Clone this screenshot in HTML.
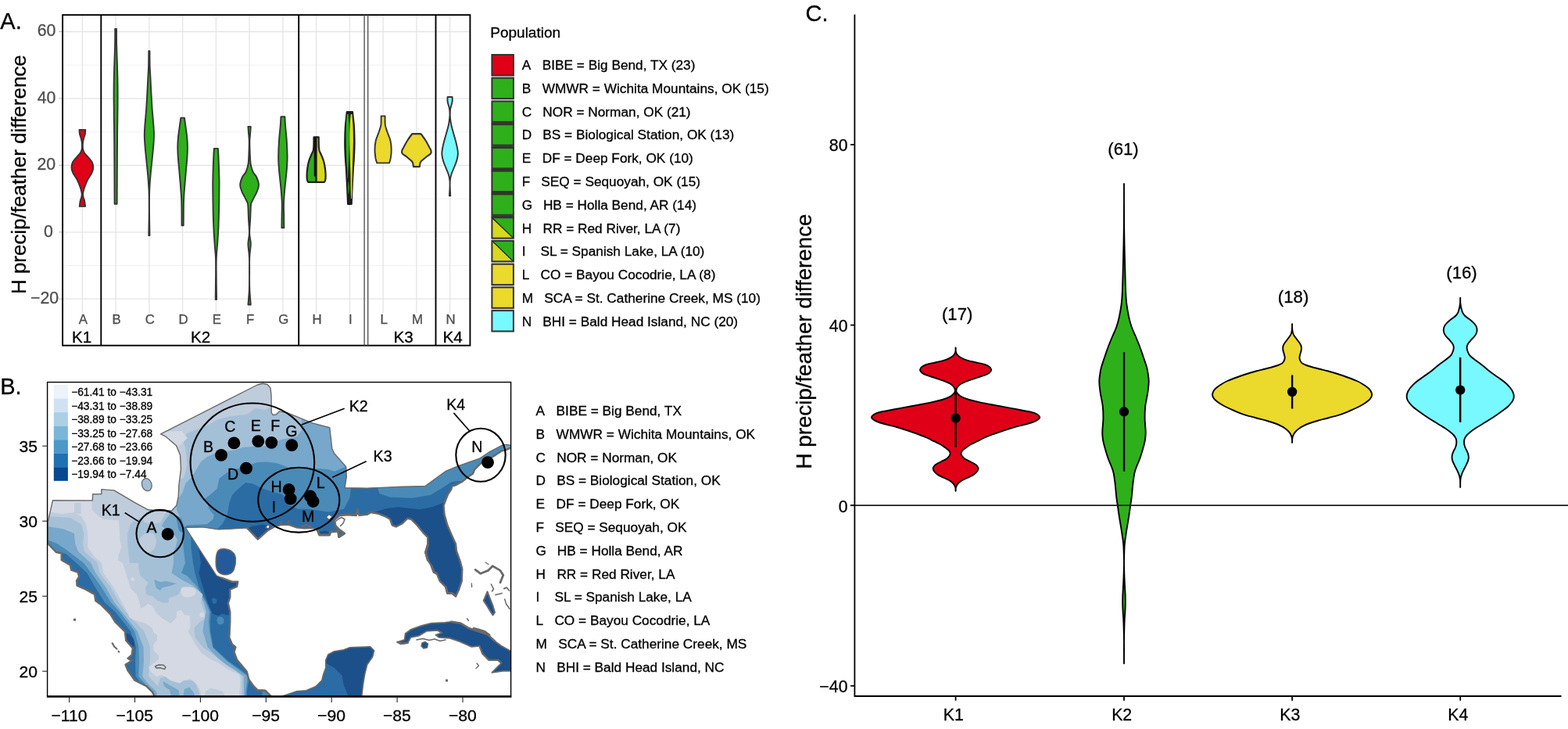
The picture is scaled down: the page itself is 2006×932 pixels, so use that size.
<!DOCTYPE html>
<html lang="en">
<head>
<meta charset="utf-8">
<title>H precip/feather difference by population and genetic cluster</title>
<style>
html,body{margin:0;padding:0;background:#fff;}
body{width:2006px;height:932px;overflow:hidden;}
svg{display:block;}
svg text{font-family:'Liberation Sans', Arial, Helvetica, sans-serif;white-space:pre;}
</style>
</head>
<body>
<svg width="2006" height="932" viewBox="0 0 2006 932" xml:space="preserve">
<rect x="0" y="0" width="2006" height="932" fill="#ffffff"/>
<g id="panelA">
<g stroke="#ebebeb" fill="none">
<line x1="80.1" x2="601.4" y1="83.2" y2="83.2" stroke-width="0.7"/>
<line x1="80.1" x2="601.4" y1="168.7" y2="168.7" stroke-width="0.7"/>
<line x1="80.1" x2="601.4" y1="254.1" y2="254.1" stroke-width="0.7"/>
<line x1="80.1" x2="601.4" y1="339.5" y2="339.5" stroke-width="0.7"/>
<line x1="80.1" x2="601.4" y1="40.5" y2="40.5" stroke-width="1.3" stroke="#e4e4e4"/>
<line x1="80.1" x2="601.4" y1="125.9" y2="125.9" stroke-width="1.3" stroke="#e4e4e4"/>
<line x1="80.1" x2="601.4" y1="211.4" y2="211.4" stroke-width="1.3" stroke="#e4e4e4"/>
<line x1="80.1" x2="601.4" y1="296.8" y2="296.8" stroke-width="1.3" stroke="#e4e4e4"/>
<line x1="80.1" x2="601.4" y1="382.2" y2="382.2" stroke-width="1.3" stroke="#e4e4e4"/>
<line x1="105.4" x2="105.4" y1="19.1" y2="400.4" stroke-width="1.3" stroke="#e4e4e4"/>
<line x1="148.1" x2="148.1" y1="19.1" y2="400.4" stroke-width="1.3" stroke="#e4e4e4"/>
<line x1="190.9" x2="190.9" y1="19.1" y2="400.4" stroke-width="1.3" stroke="#e4e4e4"/>
<line x1="233.6" x2="233.6" y1="19.1" y2="400.4" stroke-width="1.3" stroke="#e4e4e4"/>
<line x1="276.4" x2="276.4" y1="19.1" y2="400.4" stroke-width="1.3" stroke="#e4e4e4"/>
<line x1="319.1" x2="319.1" y1="19.1" y2="400.4" stroke-width="1.3" stroke="#e4e4e4"/>
<line x1="361.9" x2="361.9" y1="19.1" y2="400.4" stroke-width="1.3" stroke="#e4e4e4"/>
<line x1="404.6" x2="404.6" y1="19.1" y2="400.4" stroke-width="1.3" stroke="#e4e4e4"/>
<line x1="447.4" x2="447.4" y1="19.1" y2="400.4" stroke-width="1.3" stroke="#e4e4e4"/>
<line x1="490.1" x2="490.1" y1="19.1" y2="400.4" stroke-width="1.3" stroke="#e4e4e4"/>
<line x1="532.9" x2="532.9" y1="19.1" y2="400.4" stroke-width="1.3" stroke="#e4e4e4"/>
<line x1="575.6" x2="575.6" y1="19.1" y2="400.4" stroke-width="1.3" stroke="#e4e4e4"/>
</g>
<line x1="75.3" x2="80.1" y1="40.5" y2="40.5" stroke="#b0b0b0" stroke-width="1"/>
<line x1="75.3" x2="80.1" y1="125.9" y2="125.9" stroke="#b0b0b0" stroke-width="1"/>
<line x1="75.3" x2="80.1" y1="211.4" y2="211.4" stroke="#b0b0b0" stroke-width="1"/>
<line x1="75.3" x2="80.1" y1="296.8" y2="296.8" stroke="#b0b0b0" stroke-width="1"/>
<line x1="75.3" x2="80.1" y1="382.2" y2="382.2" stroke="#b0b0b0" stroke-width="1"/>
<g stroke="#333333" stroke-width="1.9" stroke-linejoin="round">
<path d="M109.3 165.9C109.2 166.8 109.2 169.3 108.9 171C108.6 172.7 107.9 174.3 107.4 176C107 177.7 106.5 179.3 106.2 181C105.9 182.7 105.8 184.3 105.8 186C105.8 187.7 105.8 189.4 106.2 191C106.6 192.6 107 194 108 195.5C109 197 110.4 198.1 112 200C113.6 201.9 116.4 204.7 117.6 207C118.8 209.3 119.3 211.7 119.3 213.9C119.3 216.2 118.9 217.8 117.7 220.5C116.5 223.2 113.6 226.9 112 230C110.4 233.1 109.2 236.5 108.3 239C107.4 241.5 107 243.4 106.6 245C106.2 246.6 106.1 247.6 106.1 248.8C106.1 250.1 106.4 251.1 106.7 252.5C107 253.9 107.7 255.1 108.1 257C108.5 258.9 108.9 262.8 109.1 263.9L101.7 263.9C101.9 262.8 102.3 258.9 102.7 257C103.1 255.1 103.8 253.9 104.1 252.5C104.4 251.1 104.7 250.1 104.7 248.8C104.7 247.6 104.6 246.6 104.2 245C103.8 243.4 103.4 241.5 102.5 239C101.6 236.5 100.4 233.1 98.8 230C97.2 226.9 94.3 223.2 93.1 220.5C91.9 217.8 91.5 216.2 91.5 213.9C91.5 211.7 92 209.3 93.2 207C94.4 204.7 97.2 201.9 98.8 200C100.4 198.1 101.8 197 102.8 195.5C103.8 194 104.2 192.6 104.6 191C105 189.4 105 187.7 105 186C105 184.3 104.9 182.7 104.6 181C104.3 179.3 103.9 177.7 103.4 176C103 174.3 102.2 172.7 101.9 171C101.6 169.3 101.6 166.8 101.5 165.9Z" fill="#df0017"/>
<path d="M149 36.9C149 38.8 149 44.8 149 48C149.1 51.2 149.1 52.3 149.1 56C149.2 59.7 149.4 65.2 149.5 70C149.7 74.8 149.9 79.2 150 85C150.2 90.8 150.4 98.2 150.5 105C150.6 111.8 150.7 118.5 150.6 126C150.6 133.5 150.5 142.7 150.4 150C150.4 157.3 150.2 161.7 150.1 170C150.1 178.3 150 191.7 149.9 200C149.9 208.3 149.9 212.5 149.8 220C149.8 227.5 149.8 238.2 149.7 245C149.7 251.8 149.7 258.2 149.6 260.8L146.6 260.8C146.6 258.2 146.6 251.8 146.5 245C146.5 238.2 146.5 227.5 146.4 220C146.4 212.5 146.4 208.3 146.3 200C146.3 191.7 146.2 178.3 146.1 170C146.1 161.7 145.9 157.3 145.8 150C145.8 142.7 145.7 133.5 145.6 126C145.6 118.5 145.6 111.8 145.7 105C145.8 98.2 146.1 90.8 146.2 85C146.4 79.2 146.6 74.8 146.7 70C146.9 65.2 147.1 59.7 147.1 56C147.2 52.3 147.2 51.2 147.2 48C147.3 44.8 147.2 38.8 147.2 36.9Z" fill="#2eb01a" stroke-width="1.9"/>
<path d="M191.5 65.2C191.5 68.5 191.5 79.2 191.7 85C191.9 90.8 192.2 94.2 192.5 100C192.8 105.8 193.1 113.3 193.5 120C193.9 126.7 194.2 133.3 194.7 140C195.2 146.7 196 154.7 196.4 160C196.8 165.3 197 167.8 197 172C197 176.2 196.8 179.5 196.4 185C196 190.5 195.1 198.3 194.5 205C193.8 211.7 193 218.3 192.5 225C191.9 231.7 191.4 237.5 191.2 245C190.9 252.5 191 260.6 191 270C191.1 279.4 191.4 295.9 191.5 301.1L190.3 301.1C190.4 295.9 190.7 279.4 190.8 270C190.8 260.6 190.8 252.5 190.6 245C190.3 237.5 189.8 231.7 189.3 225C188.7 218.3 187.9 211.7 187.3 205C186.6 198.3 185.8 190.5 185.4 185C185 179.5 184.8 176.2 184.8 172C184.8 167.8 185 165.3 185.4 160C185.8 154.7 186.6 146.7 187.1 140C187.6 133.3 187.9 126.7 188.3 120C188.7 113.3 189 105.8 189.3 100C189.6 94.2 189.9 90.8 190.1 85C190.3 79.2 190.3 68.5 190.3 65.2Z" fill="#2eb01a"/>
<path d="M235.9 150.6C236.2 152.2 236.7 155.9 237.2 160C237.8 164.1 238.8 170.5 239.2 175C239.7 179.5 239.9 182.8 239.9 187C240 191.2 239.8 195.3 239.5 200C239.3 204.7 238.7 210 238.2 215C237.8 220 237.4 225 236.9 230C236.5 235 236.1 240 235.7 245C235.4 250 235.1 252.8 234.9 260C234.8 267.2 234.8 283.5 234.7 288.2L232.5 288.2C232.5 283.5 232.5 267.2 232.3 260C232.2 252.8 231.9 250 231.5 245C231.2 240 230.8 235 230.3 230C229.9 225 229.5 220 229 215C228.6 210 228 204.7 227.7 200C227.5 195.3 227.3 191.2 227.3 187C227.4 182.8 227.6 179.5 228 175C228.5 170.5 229.5 164.1 230 160C230.6 155.9 231.1 152.2 231.3 150.6Z" fill="#2eb01a"/>
<path d="M278.9 189.9C279 191.6 279.2 193.3 279.5 200C279.7 206.7 280.3 220 280.5 230C280.6 240 280.4 250 280.3 260C280.1 270 279.8 281.7 279.5 290C279.1 298.3 278.7 303.3 278.3 310C277.8 316.7 277 323.3 276.8 330C276.5 336.7 276.6 341.2 276.7 350C276.7 358.8 277 377.4 277.1 382.9L275.7 382.9C275.7 377.4 276 358.8 276.1 350C276.1 341.2 276.2 336.7 276 330C275.7 323.3 274.9 316.7 274.5 310C274 303.3 273.6 298.3 273.3 290C272.9 281.7 272.6 270 272.5 260C272.3 250 272.1 240 272.3 230C272.4 220 273 206.7 273.3 200C273.5 193.3 273.8 191.6 273.9 189.9Z" fill="#2eb01a"/>
<path d="M320.8 161.9C320.7 163.2 320.5 167 320.2 170C320 173 319.5 175.8 319.4 180C319.3 184.2 319.5 190 319.7 195C319.9 200 320.1 205.8 320.7 210C321.4 214.2 322.5 217.3 323.7 220C324.9 222.7 326.8 223.3 328 226C329.2 228.7 330.9 233 331 236.2C331.1 239.4 329.5 242.7 328.7 245C327.9 247.3 327.2 248 326.2 250C325.2 252 323.6 255 322.7 257C321.9 259 321.4 258.2 321 262C320.6 265.8 320.5 274 320.2 280C319.9 286 319.1 292.7 319.2 298C319.3 303.3 320.8 306.7 320.8 312C320.8 317.3 319.5 321 319.2 330C319 339 319.1 357.7 319.2 366C319.4 374.3 319.8 376.1 320 380C320.3 383.9 320.7 387.9 320.8 389.5L317.4 389.5C317.6 387.9 318 383.9 318.2 380C318.5 376.1 318.9 374.3 319 366C319.1 357.7 319.3 339 319 330C318.7 321 317.4 317.3 317.4 312C317.4 306.7 318.9 303.3 319 298C319.1 292.7 318.3 286 318 280C317.7 274 317.6 265.8 317.2 262C316.8 258.2 316.4 259 315.5 257C314.7 255 313 252 312 250C311 248 310.3 247.3 309.5 245C308.7 242.7 307.1 239.4 307.2 236.2C307.3 233 309 228.7 310.2 226C311.4 223.3 313.3 222.7 314.5 220C315.7 217.3 316.9 214.2 317.5 210C318.2 205.8 318.3 200 318.5 195C318.7 190 318.9 184.2 318.8 180C318.7 175.8 318.3 173 318 170C317.8 167 317.5 163.2 317.4 161.9Z" fill="#2eb01a"/>
<path d="M364.4 149.2C364.5 151 364.6 154.9 365 160C365.4 165.1 366.3 173.3 366.8 180C367.2 186.7 367.5 194.2 367.6 200C367.6 205.8 367.3 210 367 215C366.6 220 366 225 365.5 230C365 235 364.4 240 364 245C363.6 250 363.1 255 363 260C362.8 265 363.1 269.8 363.2 275C363.2 280.2 363.3 288.5 363.4 291.2L360.4 291.2C360.4 288.5 360.5 280.2 360.6 275C360.6 269.8 360.9 265 360.8 260C360.6 255 360.2 250 359.8 245C359.4 240 358.8 235 358.3 230C357.8 225 357.1 220 356.8 215C356.4 210 356.1 205.8 356.2 200C356.2 194.2 356.5 186.7 357 180C357.4 173.3 358.4 165.1 358.8 160C359.2 154.9 359.3 151 359.4 149.2Z" fill="#2eb01a"/>
<g stroke="#222" stroke-width="2.2">
<path d="M404.6 175.4C404.6 177.5 404.6 185.1 404.6 188C404.6 190.9 404.6 191.4 404.6 193C404.6 194.6 404.6 195.2 404.6 197.3C404.6 199.4 404.6 202.7 404.6 205.8C404.6 208.9 404.6 212.8 404.6 216C404.6 219.2 404.6 222.4 404.6 224.7C404.6 227 404.6 228.6 404.6 230C404.6 231.4 404.6 232.4 404.6 232.9L394.3 232.9C394.1 232.4 393.3 231.4 393 230C392.7 228.6 392.6 227 392.6 224.7C392.6 222.4 392.8 219.2 393.2 216C393.6 212.8 394.3 208.9 395.2 205.8C396.1 202.7 397.7 199.4 398.6 197.3C399.5 195.2 400.1 194.6 400.5 193C401 191.4 401.1 190.9 401.3 188C401.5 185.1 401.5 177.5 401.5 175.4Z" fill="#2eb01a"/>
<path d="M407.7 175.4C407.7 177.5 407.7 185.1 407.9 188C408.1 190.9 408.3 191.4 408.7 193C409.2 194.6 409.7 195.2 410.6 197.3C411.5 199.4 413.1 202.7 414 205.8C414.9 208.9 415.6 212.8 416 216C416.4 219.2 416.6 222.4 416.6 224.7C416.6 227 416.5 228.6 416.2 230C415.9 231.4 415.1 232.4 414.9 232.9L404.6 232.9C404.6 232.4 404.6 231.4 404.6 230C404.6 228.6 404.6 227 404.6 224.7C404.6 222.4 404.6 219.2 404.6 216C404.6 212.8 404.6 208.9 404.6 205.8C404.6 202.7 404.6 199.4 404.6 197.3C404.6 195.2 404.6 194.6 404.6 193C404.6 191.4 404.6 190.9 404.6 188C404.6 185.1 404.6 177.5 404.6 175.4Z" fill="#d8d81e"/>
<path d="M403.1 175.5L403.1 225.5" stroke="#111" stroke-width="2.8" fill="none"/>
</g>
<path d="M450.8 143.2C450.9 144.3 451.1 146.7 451.5 150C451.8 153.3 452.5 158 452.8 163C453.1 168 453.2 175.5 453.3 180C453.3 184.5 453.3 185.8 453.2 190C453 194.2 452.7 200.8 452.5 205C452.2 209.2 452 209.2 451.7 215C451.3 220.8 450.7 232.4 450.4 240C450 247.6 449.6 257.3 449.5 260.7L445.3 260.7C445.1 257.3 444.7 247.6 444.4 240C444 232.4 443.4 220.8 443.1 215C442.7 209.2 442.5 209.2 442.3 205C442 200.8 441.7 194.2 441.6 190C441.4 185.8 441.4 184.5 441.5 180C441.5 175.5 441.7 168 442 163C442.3 158 442.9 153.3 443.3 150C443.6 146.7 443.8 144.3 444 143.2Z" fill="#1a2410" stroke="#1c1c1c" stroke-width="2.6"/>
<path d="M445.7 146C445.8 148.3 446.5 154.3 446.7 160C446.9 165.7 446.9 173.3 446.9 180C446.8 186.7 446.6 194.2 446.4 200C446.1 205.8 445.8 210.3 445.6 215C445.3 219.7 445.1 225.8 445.1 228L444.5 228C444.4 225.8 444.2 219.7 444 215C443.7 210.3 443.4 205.8 443.2 200C442.9 194.2 442.7 186.7 442.7 180C442.6 173.3 442.7 165.7 442.9 160C443.1 154.3 443.7 148.3 443.9 146Z" fill="#2eb01a" stroke="none"/>
<path d="M446 232C446 233.3 446.5 237.3 446.5 240C446.5 242.7 446 246.7 446 248L445.6 248C445.5 246.7 445.1 242.7 445.1 240C445.1 237.3 445.5 233.3 445.6 232Z" fill="#2eb01a" stroke="none"/>
<path d="M450.4 146C450.5 148.3 451.2 154.3 451.5 160C451.7 165.7 451.9 173.3 451.9 180C451.8 186.7 451.6 192.5 451.4 200C451.2 207.5 450.8 217.5 450.7 225C450.5 232.5 450.5 240.2 450.4 245C450.2 249.8 450 252.5 450 254L449.2 254C449.1 252.5 448.9 249.8 448.8 245C448.6 240.2 448.6 232.5 448.5 225C448.3 217.5 448 207.5 447.8 200C447.6 192.5 447.3 186.7 447.3 180C447.2 173.3 447.4 165.7 447.7 160C447.9 154.3 448.6 148.3 448.8 146Z" fill="#e3d920" stroke="none"/>
<path d="M492.6 148.4C492.6 150.2 492.4 156.2 492.8 159.5C493.2 162.8 494.1 164.6 495.2 168C496.3 171.4 498.6 176 499.5 180C500.4 184 500.7 188.3 500.7 192C500.7 195.7 500.2 199.7 499.7 202.4C499.3 205.1 498.3 207.4 498 208.4L482.2 208.4C481.9 207.4 481 205.1 480.5 202.4C480.1 199.7 479.5 195.7 479.5 192C479.5 188.3 479.8 184 480.7 180C481.6 176 483.9 171.4 485 168C486.1 164.6 487 162.8 487.4 159.5C487.8 156.2 487.6 150.2 487.6 148.4Z" fill="#ebd92b"/>
<path d="M578.6 124C578.6 125 579 127.5 578.6 130C578.2 132.5 576.7 136.2 576.2 139C575.7 141.8 575.7 143.9 575.7 146.6C575.8 149.3 576.1 152.3 576.5 155C576.9 157.7 577 158.8 578.1 163C579.2 167.2 581.7 175.5 582.9 180C584.1 184.5 584.7 187.3 585.2 190C585.7 192.7 585.9 194.2 585.9 196.4C585.8 198.6 585.4 200.8 584.9 203C584.4 205.2 584.1 206 582.9 209.3C581.6 212.6 578.6 219.3 577.4 223C576.2 226.7 576 228.8 575.7 231.6C575.4 234.4 575.6 236.9 575.7 240C575.8 243.1 576.2 248.7 576.3 250.4L574.9 250.4C575 248.7 575.4 243.1 575.5 240C575.6 236.9 575.8 234.4 575.5 231.6C575.2 228.8 575 226.7 573.8 223C572.6 219.3 569.5 212.6 568.3 209.3C567 206 566.8 205.2 566.3 203C565.8 200.8 565.3 198.6 565.3 196.4C565.2 194.2 565.5 192.7 566 190C566.5 187.3 567.1 184.5 568.3 180C569.5 175.5 572 167.2 573.1 163C574.2 158.8 574.3 157.7 574.7 155C575.1 152.3 575.4 149.3 575.5 146.6C575.5 143.9 575.5 141.8 575 139C574.5 136.2 573 132.5 572.6 130C572.2 127.5 572.6 125 572.6 124Z" fill="#78f8ff"/>
<path d="M538.1 171.1C538.3 171.2 538.2 170.7 539.1 172C540.1 173.3 543.2 177.5 544.8 180C546.3 182.5 548.5 187 549.5 188.7C550.4 190.4 550.7 190.7 551.1 191.5C551.4 192.3 551.7 193.4 551.6 194.2C551.6 195 551.8 195.6 550.9 196.6C549.9 197.6 547 199.3 545.2 200.7C543.5 202.1 540.4 204.7 539.2 205.8C538.1 206.9 538.1 207.3 537.8 208C537.4 208.7 537.3 209.7 537.1 210.5C537 211.3 536.9 212.7 536.9 213.1L528.9 213.1C528.8 212.7 528.7 211.3 528.6 210.5C528.4 209.7 528.3 208.7 528 208C527.6 207.3 527.6 206.9 526.5 205.8C525.3 204.7 522.2 202.1 520.5 200.7C518.7 199.3 515.8 197.6 514.9 196.6C513.9 195.6 514.1 195 514.1 194.2C514 193.4 514.3 192.3 514.6 191.5C515 190.7 515.3 190.4 516.2 188.7C517.2 187 519.4 182.5 521 180C522.5 177.5 525.6 173.3 526.6 172C527.5 170.7 527.4 171.2 527.6 171.1Z" fill="#ebd92b" stroke-width="2.1"/>
</g>
<g fill="none" stroke="#000" stroke-width="1.9">
<rect x="80.1" y="19.1" width="521.3" height="422.6"/>
<line x1="129.3" x2="129.3" y1="19.1" y2="441.7"/>
<line x1="382.2" x2="382.2" y1="19.1" y2="441.7"/>
<line x1="557.5" x2="557.5" y1="19.1" y2="441.7"/>
<line x1="466.1" x2="466.1" y1="19.1" y2="441.7" stroke="#4a4a4a" stroke-width="1.3"/>
<line x1="470.7" x2="470.7" y1="19.1" y2="441.7" stroke="#4a4a4a" stroke-width="1.3"/>
</g>
<g font-size="16.8" fill="#4d4d4d" text-anchor="middle" stroke="#4d4d4d" stroke-width="0.3">
<text x="106.4" y="413.8">A</text>
<text x="149.1" y="413.8">B</text>
<text x="191.9" y="413.8">C</text>
<text x="234.6" y="413.8">D</text>
<text x="277.4" y="413.8">E</text>
<text x="320.1" y="413.8">F</text>
<text x="362.9" y="413.8">G</text>
<text x="405.6" y="413.8">H</text>
<text x="448.4" y="413.8">I</text>
<text x="491.1" y="413.8">L</text>
<text x="533.9" y="413.8">M</text>
<text x="576.6" y="413.8">N</text>
</g>
<g font-size="20.6" fill="#000" text-anchor="middle" stroke="#000" stroke-width="0.3">
<text x="104.6" y="437.8">K1</text>
<text x="256.6" y="437.8">K2</text>
<text x="516.2" y="437.8">K3</text>
<text x="579.2" y="437.8">K4</text>
</g>
<g font-size="21.3" fill="#4d4d4d" text-anchor="end" stroke="#4d4d4d" stroke-width="0.3">
<text x="71.4" y="46.3">60</text>
<text x="71.4" y="131.7">40</text>
<text x="71.1" y="217.2">20</text>
<text x="67.8" y="302.6">0</text>
<text x="75.2" y="388">−20</text>
</g>
<text transform="translate(32.5 376.1) rotate(-90)" font-size="26" text-anchor="start" fill="#000" stroke="#000" stroke-width="0.3">H precip/feather difference</text>
<text x="0.3" y="36.8" font-size="29" fill="#000" stroke="#000" stroke-width="0.3">A.</text>
<text x="627.2" y="48" font-size="19.05" fill="#000" stroke="#000" stroke-width="0.3">Population</text>
<rect x="628.7" y="69" width="28.9" height="355.6" fill="#dcdcdc"/>
<rect x="629.4" y="70" width="27.5" height="26.4" fill="#df0017" stroke="#333333" stroke-width="2"/>
<rect x="629.4" y="99.7" width="27.5" height="26.4" fill="#2eb01a" stroke="#333333" stroke-width="2"/>
<rect x="629.4" y="129.5" width="27.5" height="26.4" fill="#2eb01a" stroke="#333333" stroke-width="2"/>
<rect x="629.4" y="159.2" width="27.5" height="26.4" fill="#2eb01a" stroke="#333333" stroke-width="2"/>
<rect x="629.4" y="189" width="27.5" height="26.4" fill="#2eb01a" stroke="#333333" stroke-width="2"/>
<rect x="629.4" y="218.7" width="27.5" height="26.4" fill="#2eb01a" stroke="#333333" stroke-width="2"/>
<rect x="629.4" y="248.4" width="27.5" height="26.4" fill="#2eb01a" stroke="#333333" stroke-width="2"/>
<path d="M629.4 278.2L656.9 278.2L656.9 304.6Z" fill="#2eb01a"/>
<path d="M629.4 278.2L629.4 304.6L656.9 304.6Z" fill="#d8d81e"/>
<path d="M629.4 278.2L656.9 304.6" stroke="#111" stroke-width="1.2" fill="none"/>
<rect x="629.4" y="278.2" width="27.5" height="26.4" fill="none" stroke="#333333" stroke-width="2"/>
<path d="M629.4 307.9L656.9 307.9L656.9 334.4Z" fill="#2eb01a"/>
<path d="M629.4 307.9L629.4 334.4L656.9 334.4Z" fill="#d8d81e"/>
<path d="M629.4 307.9L656.9 334.4" stroke="#111" stroke-width="1.2" fill="none"/>
<rect x="629.4" y="307.9" width="27.5" height="26.4" fill="none" stroke="#333333" stroke-width="2"/>
<rect x="629.4" y="337.7" width="27.5" height="26.4" fill="#ebd92b" stroke="#333333" stroke-width="2"/>
<rect x="629.4" y="367.4" width="27.5" height="26.4" fill="#ebd92b" stroke="#333333" stroke-width="2"/>
<rect x="629.4" y="397.1" width="27.5" height="26.4" fill="#78f8ff" stroke="#333333" stroke-width="2"/>
<line x1="628.4" x2="657.9" y1="157.8" y2="157.8" stroke="#333333" stroke-width="2.8"/>
<line x1="628.4" x2="657.9" y1="187.6" y2="187.6" stroke="#333333" stroke-width="2.8"/>
<line x1="628.4" x2="657.9" y1="217.3" y2="217.3" stroke="#333333" stroke-width="2.8"/>
<line x1="628.4" x2="657.9" y1="247" y2="247" stroke="#333333" stroke-width="2.8"/>
<line x1="628.4" x2="657.9" y1="276.8" y2="276.8" stroke="#333333" stroke-width="2.8"/>
<g font-size="17.26" fill="#000" stroke="#000" stroke-width="0.3">
<text x="667.8" y="88.9">A</text>
<text x="693.7" y="88.9">BIBE = Big Bend, TX (23)</text>
<text x="667.8" y="118.7">B</text>
<text x="693.7" y="118.7">WMWR = Wichita Mountains, OK (15)</text>
<text x="667.8" y="148.5">C</text>
<text x="694.3" y="148.5">NOR = Norman, OK (21)</text>
<text x="667.8" y="178.3">D</text>
<text x="694.3" y="178.3">BS = Biological Station, OK (13)</text>
<text x="667.8" y="208.1">E</text>
<text x="693.7" y="208.1">DF = Deep Fork, OK (10)</text>
<text x="667.8" y="237.9">F</text>
<text x="692.3" y="237.9">SEQ = Sequoyah, OK (15)</text>
<text x="667.8" y="267.8">G</text>
<text x="694.9" y="267.8">HB = Holla Bend, AR (14)</text>
<text x="667.8" y="297.6">H</text>
<text x="694.5" y="297.6">RR = Red River, LA (7)</text>
<text x="667.8" y="327.4">I</text>
<text x="691.5" y="327.4">SL = Spanish Lake, LA (10)</text>
<text x="667.8" y="357.2">L</text>
<text x="691.5" y="357.2">CO = Bayou Cocodrie, LA (8)</text>
<text x="667.8" y="387">M</text>
<text x="696.3" y="387">SCA = St. Catherine Creek, MS (10)</text>
<text x="667.8" y="416.8">N</text>
<text x="694.3" y="416.8">BHI = Bald Head Island, NC (20)</text>
</g>
</g>
<g id="panelB">
<defs><clipPath id="landclip"><path d="M205.6 554.8L329.3 492L336 490.3L342 491.5L346 496L347 505L347.3 527.9L349.5 530.5L353.3 530L357.3 525.9L367.9 527.9L399.8 540.9L421.8 546.8L424.8 573.8L427.7 579.8L442.7 596.7L443.3 609.7L441.1 623.7L470 624.1L514.4 622.2L541.5 621.6L543.9 621.5L569.7 602.7L585.8 595.8L613.7 586.1L626.5 577.5L642.6 569L648 568.4L653.9 569.5L653.9 572.2L648 574.9L641.6 576.5L631.9 582.9L614.7 592.6L607.2 600.1L605.1 605.4L598.6 609.7L592.2 615.1L582.6 620.4L578.3 621.5L577.2 625.8L572.9 632.2L570.4 638.6L567.5 646.3L568.5 657.9L572.4 671.5L578.2 685L583 695.6L583.9 704.3L588.8 717.8L591.3 727.5L590.7 742.9L586.8 754.5L583 762.2L578.2 758.4L572.4 758.4L570.4 750.6L562.7 742.9L558.8 733.3L555 731.3L552.1 723.6L547.3 715.9L544.4 706.2L547.3 696.6L547.3 686.9L541.5 681.1L533.7 671.5L526 663.7L521.2 662.8L514.4 669.5L506.7 673.4L501.9 671.5L499 663.7L494.4 660.9L484.4 656.9L474.5 655L469.5 657.9L459.5 658.9L457.5 651L455.5 658.9L444.6 657.9L434.6 658.9L427.6 664.9L429.6 672.9L433.6 676.9L440.6 681.9L433.6 686.4L432.6 678.9L422.6 679.9L421.6 683.9L408.7 683.9L405.7 676.9L399.7 674.9L389.7 675.4L379.8 674.4L369.8 670.9L359.8 670.9L351.8 672.9L342.9 677.9L329.9 689.4L316 674.9L300 675.9L279.4 676.9L259.5 673.9L237 674.2L276.9 735.9L283.1 738.7L296.8 743.7L304.3 743.7L303 749.9L294.3 753.6L294.3 763.6L291.8 771.1L294.3 782.3L294.3 794.8L293.3 814.9L297 823.6L301.4 827.4L299.5 833.6L303.2 843.6L315.7 858.5L318.2 868.5L324.4 877.2L329.4 882.2L339.4 882.8L346.9 890.4L197.9 890.4L194.8 884.7L187.3 877.2L172.4 869.8L163.6 857.3L160.5 849.8L168.6 844.8L163.6 841.7L168.6 837.4L169.9 828.6L161.2 818.7L159.9 807.4L147.2 794.8L141 784.8L129.8 773.6L122.3 768L121.1 759.9L109.9 753.6L98.6 748.7L98 742.4L101.1 737.4L99.9 731.8L91.2 728.7L89.9 722.5L78.7 716L78.7 707.2L71.8 706L61.2 694.8L61.2 667.4L67.5 639.7L118.3 639.9L118.6 631.8L129.8 631.5L129.8 625.6L146 626.9L172.2 642.4L189.6 651.8L203.3 653L219.5 653L225.8 646.2L228.2 635L228.9 620L231.5 599.7L230.5 581.8L225.5 569.8L211.6 557.8Z"/></clipPath><clipPath id="mapclip"><rect x="60.6" y="488.6" width="593.3" height="401.8"/></clipPath></defs>
<g clip-path="url(#mapclip)">
<g clip-path="url(#landclip)">
<path d="M205.6 554.8L329.3 492L336 490.3L342 491.5L346 496L347 505L347.3 527.9L349.5 530.5L353.3 530L357.3 525.9L367.9 527.9L399.8 540.9L421.8 546.8L424.8 573.8L427.7 579.8L442.7 596.7L443.3 609.7L441.1 623.7L470 624.1L514.4 622.2L541.5 621.6L543.9 621.5L569.7 602.7L585.8 595.8L613.7 586.1L626.5 577.5L642.6 569L648 568.4L653.9 569.5L653.9 572.2L648 574.9L641.6 576.5L631.9 582.9L614.7 592.6L607.2 600.1L605.1 605.4L598.6 609.7L592.2 615.1L582.6 620.4L578.3 621.5L577.2 625.8L572.9 632.2L570.4 638.6L567.5 646.3L568.5 657.9L572.4 671.5L578.2 685L583 695.6L583.9 704.3L588.8 717.8L591.3 727.5L590.7 742.9L586.8 754.5L583 762.2L578.2 758.4L572.4 758.4L570.4 750.6L562.7 742.9L558.8 733.3L555 731.3L552.1 723.6L547.3 715.9L544.4 706.2L547.3 696.6L547.3 686.9L541.5 681.1L533.7 671.5L526 663.7L521.2 662.8L514.4 669.5L506.7 673.4L501.9 671.5L499 663.7L494.4 660.9L484.4 656.9L474.5 655L469.5 657.9L459.5 658.9L457.5 651L455.5 658.9L444.6 657.9L434.6 658.9L427.6 664.9L429.6 672.9L433.6 676.9L440.6 681.9L433.6 686.4L432.6 678.9L422.6 679.9L421.6 683.9L408.7 683.9L405.7 676.9L399.7 674.9L389.7 675.4L379.8 674.4L369.8 670.9L359.8 670.9L351.8 672.9L342.9 677.9L329.9 689.4L316 674.9L300 675.9L279.4 676.9L259.5 673.9L237 674.2L276.9 735.9L283.1 738.7L296.8 743.7L304.3 743.7L303 749.9L294.3 753.6L294.3 763.6L291.8 771.1L294.3 782.3L294.3 794.8L293.3 814.9L297 823.6L301.4 827.4L299.5 833.6L303.2 843.6L315.7 858.5L318.2 868.5L324.4 877.2L329.4 882.2L339.4 882.8L346.9 890.4L197.9 890.4L194.8 884.7L187.3 877.2L172.4 869.8L163.6 857.3L160.5 849.8L168.6 844.8L163.6 841.7L168.6 837.4L169.9 828.6L161.2 818.7L159.9 807.4L147.2 794.8L141 784.8L129.8 773.6L122.3 768L121.1 759.9L109.9 753.6L98.6 748.7L98 742.4L101.1 737.4L99.9 731.8L91.2 728.7L89.9 722.5L78.7 716L78.7 707.2L71.8 706L61.2 694.8L61.2 667.4L67.5 639.7L118.3 639.9L118.6 631.8L129.8 631.5L129.8 625.6L146 626.9L172.2 642.4L189.6 651.8L203.3 653L219.5 653L225.8 646.2L228.2 635L228.9 620L231.5 599.7L230.5 581.8L225.5 569.8L211.6 557.8Z" fill="#a4c0d7"/>
<path d="M200 553L229.5 614L235.5 610L239.5 594L237.5 574L233.5 560L239.5 554L249.5 550L265 544L279 536L295 532L315 530L327 522L339 524L347 520L352 515L352 480L200 480Z" fill="#bfccdc"/>
<path d="M204 555L214 551.5L232.5 551L240 560L233 566L229.5 571L224 567L212 558Z" fill="#d4d9e3"/>
<path d="M225 640L229.5 635.7L233.5 629.7L237.5 617.7L245.5 609.7L251.5 599.7L257.5 589.8L265.5 583.8L279.4 577.8L299.4 575.8L311.4 571.8L340 570L360 562L380 558L385.8 550L385.8 543L386 520L700 500L700 900L400 900L237 674.2L226 652Z" fill="#77a7ca"/>
<path d="M238.9 671.5L264.8 670.2L272.6 663.7L273.9 658.5L267.4 650.7L264.8 640.4L262.2 637.8L268.7 632.6L277.8 624.8L280.4 611.8L290.7 604.1L303.7 598.9L316.7 595L329.6 591.1L342.6 590.5L355.5 592.4L368.5 597.6L381.5 598.9L394.4 600.2L407.4 598.9L420.3 600.2L428.1 602.8L439.8 597.6L446 595L700 595L700 900L400 900L237 674.2Z" fill="#4a8ab7"/>
<path d="M277.8 676.7L284.2 670.2L290.7 658.5L293.3 643L297.2 632.6L303.7 626.1L314 617L323.1 618.3L336.1 624.8L349 628.7L362 632.6L368.5 645.5L381.5 650.7L394.4 650.7L420.3 654.6L439.8 650.7L443.7 643.7L447.7 635.7L448.7 625.7L449 615L700 615L700 900L400 900L300 700Z" fill="#2b6ca4"/>
<path d="M483.6 620L483.6 626L485.4 630.9L499 635.7L527.9 636.7L551.1 632.8L566.6 623.2L577.2 616.2L590.1 614L600 608L615 598L640 580L644 574L644 560L560 600Z" fill="#4a8ab7"/>
<path d="M466 662L475.8 656L493.2 650.2L508.6 648.3L537.6 651.2L553 648.3L567.5 642.5L600 640L600 800L440 800L440 680L466 680Z" fill="#1b508b"/>
<path d="M312 678L322 673L336 670.5L346 673L352 700L310 700Z" fill="#1b508b"/>
<path d="M408 680L416 678.5L424 680.5L424 690L408 690Z" fill="#1b508b"/>
<path d="M50 620L228.9 620L226 646L219.5 653L237 674.2L276.9 735.9L320 740L320 800L360 900L50 900Z" fill="#a4c0d7"/>
<path d="M55 672L80 676L95 682L96 694.8L100 705L116.1 719.7L122.3 732.5L134.8 750L146 769.9L156 782.3L175.9 807.2L183.6 827.4L184 845L182.3 864.8L190 875L199 883L205 895L100 900L40 900L40 660Z" fill="#77a7ca"/>
<path d="M55 688L72.5 694.8L85 703L107.1 719.7L116.8 732.5L129.3 750L141.7 769.9L153 782.3L172.2 807.2L177.5 827.4L178 845L177.4 864.8L187 876L196 884L200 895L100 900L40 900L40 660Z" fill="#4a8ab7"/>
<path d="M62 703L84.3 708L97.6 719.7L111.3 732.5L121.3 750L133.8 769.9L147.5 782.3L167.2 807.2L174 827.4L173 845L173.6 864.8L180 873L190 880L194 895L100 900L40 900L40 660Z" fill="#2b6ca4"/>
<path d="M160 809L166 811L171 817L172.5 824L170 828L160 828Z" fill="#1b508b"/>
<path d="M219.5 653L218.3 656L209.5 667.4L207 672.3L214 678L222 682.3L227 689.8L224.5 699.8L222 707.2L222 719.7L219.5 732.5L232 741L247 748.7L252 755L260.6 769.9L264 782.3L261 795L259.4 807.2L265.8 827.4L282 845L300 856L312 864.8L312 895L380 895L380 740L276.9 735.9L237 674.2Z" fill="#77a7ca"/>
<path d="M226 652L230 660L234.5 669.9L234.5 680L234.5 699.8L237 719.7L232 732.5L239.5 736.2L252 750L263.1 769.9L268 782.3L267 795L268 807.2L272 827.4L290 845L305 856L317 864.8L314.4 883.5L314 895L380 895L380 740L276.9 735.9L237 674.2Z" fill="#4a8ab7"/>
<path d="M237 674.2L244.4 680L244.4 699.8L247 719.7L249.4 732.5L254.4 750L264.5 769.9L270 782.3L269 795L269.4 807.2L273 827.4L292 845L308 856L319 864.8L316 883.5L316 895L380 895L380 740L276.9 735.9Z" fill="#2b6ca4"/>
<path d="M250 694L254 700L257 719.7L254.4 732.5L259.4 750L265.6 769.9L271.9 784.8L279.3 787.3L284.3 784.8L296 787.3L320 787L320 740L276.9 735.9Z" fill="#1b508b"/>
<path d="M335.6 880L346 880L348 895L335.6 895Z" fill="#4a8ab7"/>
<path d="M271 766C271.3 764.8 273.3 764.3 274.4 764.5C275.5 764.7 277.1 765.9 277.5 767C277.9 768.1 277.3 770.2 276.5 771C275.7 771.8 273.4 772.3 272.5 771.5C271.6 770.7 270.7 767.2 271 766Z" fill="#2b6ca4"/>
<path d="M278 790C278.7 788.8 280.7 788.3 282 788.5C283.3 788.7 285.3 789.7 286 791C286.7 792.3 286.8 795.2 286 796.5C285.2 797.8 282.8 798.6 281.5 798.5C280.2 798.4 278.6 797.4 278 796C277.4 794.6 277.3 791.2 278 790Z" fill="#4a8ab7"/>
<path d="M197 741L205 744L212 743L226 746L218 749L208 751L205 755L200 752Z" fill="#77a7ca"/>
<path d="M61 660L90 662L103.6 670L107.4 682L106 694.8L108 705L124.8 719.7L127.3 732.5L141 750L152.2 769.9L161 782.3L184.6 807.2L192.3 827.4L192 845L189.8 864.8L197 872L202.3 877.2L199.8 895L309.5 895L309.5 864.8L300 857L292 852.3L277 839.9L259.6 827.4L249.6 814.9L248.4 802.5L256 795L262.1 790L261.9 782.3L256.9 769.9L259.4 760L249.4 751.2L234.5 749.9L228.2 759.9L215.8 764.9L215.8 769.9L209.5 771.1L200.8 767.4L195.8 762.4L187.1 759.9L185.9 751.2L189.6 744.9L179.6 736.2L177.1 726.2L177.1 720L166 719.7L163.5 700L163 682L167.2 669.9L172 665L180 662L185 668L195 670L205 668L209.5 660L215 652L203.3 640L172 630L146 615L100 615L50 630Z" fill="#bfccdc"/>
<path d="M178.4 690C179.4 687.5 182.2 684.3 185 683C187.8 681.7 192.6 680.8 195 682C197.4 683.2 199.1 687 199.6 690C200.1 693 199.6 697.2 198 700C196.4 702.8 192.5 706.2 190 707C187.5 707.8 184.8 706.5 183 705C181.2 703.5 179.8 700.5 179 698C178.2 695.5 177.4 692.5 178.4 690Z" fill="#bfccdc"/>
<path d="M66 641L117.5 641L117.5 652L126 660L133 664L152 665L153.5 690L155.5 700L152 708L151 716L157 720L161 732L165 745L167 752L175 760L178.5 770L180 778L184 776L189.5 772L195 775L201 785L207 790L218 797L225.5 790L226 782L232 780L236 786L243 787L243.5 800L241 808L249 822L252 827L258 835L268 842L280 848L290 855L296 858L306 862L307.5 870L306 895L287 895L285 884L270 880L263 884L260 895L258 895L256 882L250 873L243 868L235 871L231 876L222 872L213 866L207 863L200 865L192 858L190 853L194 850L203 843L203 838L197 832L196 825L201 818L201 812L196 808L195 803L186 797L171 792.5L166 789.8L156 769.9L144.7 750L132.3 732.5L129.8 719.7L121 712L112.3 700L112.3 682L110 670L104 660L95 655L80 657L66 655L55 652L55 641Z" fill="#d4d9e3"/>
<path d="M95 643L103.6 643L103.6 657L95 656Z" fill="#bfccdc"/>
<path d="M232 752C233.2 750.4 237.3 750.5 240 750.5C242.7 750.5 246.2 750.9 248 752C249.8 753.1 250.9 755.3 250.7 757C250.5 758.7 249.1 760.9 247 762C244.9 763.1 240.4 763.9 238 763.6C235.6 763.3 233.5 761.9 232.5 760C231.5 758.1 230.8 753.6 232 752Z" fill="#d4d9e3"/>
<path d="M169.7 738C170.6 738 172.5 739.7 172.5 740.6C172.5 741.5 170.6 743.2 169.7 743.2C168.8 743.2 167 741.5 167 740.6C167 739.7 168.8 738 169.7 738Z" fill="#d4d9e3"/>
<path d="M258.2 782.5C259.3 782.5 261.5 784.8 261.5 786C261.5 787.2 259.3 789.5 258.2 789.5C257.1 789.5 255 787.2 255 786C255 784.8 257.1 782.5 258.2 782.5Z" fill="#d4d9e3"/>
<path d="M204.8 867.3L211 864.8L217.2 869.8L229.7 873.5L235.9 869.8L245.9 869.8L250.9 874.7L254.6 884.7L257.1 895L199.8 895L202.3 877.2Z" fill="#a4c0d7"/>
<path d="M208.5 871L217.2 876L228.5 882.2L231 895L219.7 895L217.2 882.2L209.8 877.2Z" fill="#77a7ca"/>
<path d="M233.4 895L235.9 881L242.2 878.5L248.4 886L249.6 895Z" fill="#77a7ca"/>
<path d="M263.4 883.5L269.6 879.7L279.5 882.2L287 887.2L287 895L263 895Z" fill="#bfccdc"/>
<path d="M226 660C226.8 658.8 230.6 661 232 663C233.4 665 234.2 669.2 234.5 672C234.8 674.8 234.9 679 234 680C233.1 681 230.2 679.7 229 678C227.8 676.3 227.5 673 227 670C226.5 667 225.2 661.2 226 660Z" fill="#4a8ab7"/>
</g>
<path d="M205.6 554.8L329.3 492L336 490.3L342 491.5L346 496L347 505L347.3 527.9L349.5 530.5L353.3 530L357.3 525.9L367.9 527.9L399.8 540.9L421.8 546.8L424.8 573.8L427.7 579.8L442.7 596.7L443.3 609.7L441.1 623.7L470 624.1L514.4 622.2L541.5 621.6L543.9 621.5L569.7 602.7L585.8 595.8L613.7 586.1L626.5 577.5L642.6 569L648 568.4L653.9 569.5L653.9 572.2L648 574.9L641.6 576.5L631.9 582.9L614.7 592.6L607.2 600.1L605.1 605.4L598.6 609.7L592.2 615.1L582.6 620.4L578.3 621.5L577.2 625.8L572.9 632.2L570.4 638.6L567.5 646.3L568.5 657.9L572.4 671.5L578.2 685L583 695.6L583.9 704.3L588.8 717.8L591.3 727.5L590.7 742.9L586.8 754.5L583 762.2L578.2 758.4L572.4 758.4L570.4 750.6L562.7 742.9L558.8 733.3L555 731.3L552.1 723.6L547.3 715.9L544.4 706.2L547.3 696.6L547.3 686.9L541.5 681.1L533.7 671.5L526 663.7L521.2 662.8L514.4 669.5L506.7 673.4L501.9 671.5L499 663.7L494.4 660.9L484.4 656.9L474.5 655L469.5 657.9L459.5 658.9L457.5 651L455.5 658.9L444.6 657.9L434.6 658.9L427.6 664.9L429.6 672.9L433.6 676.9L440.6 681.9L433.6 686.4L432.6 678.9L422.6 679.9L421.6 683.9L408.7 683.9L405.7 676.9L399.7 674.9L389.7 675.4L379.8 674.4L369.8 670.9L359.8 670.9L351.8 672.9L342.9 677.9L329.9 689.4L316 674.9L300 675.9L279.4 676.9L259.5 673.9L237 674.2L276.9 735.9L283.1 738.7L296.8 743.7L304.3 743.7L303 749.9L294.3 753.6L294.3 763.6L291.8 771.1L294.3 782.3L294.3 794.8L293.3 814.9L297 823.6L301.4 827.4L299.5 833.6L303.2 843.6L315.7 858.5L318.2 868.5L324.4 877.2L329.4 882.2L339.4 882.8L346.9 890.4L197.9 890.4L194.8 884.7L187.3 877.2L172.4 869.8L163.6 857.3L160.5 849.8L168.6 844.8L163.6 841.7L168.6 837.4L169.9 828.6L161.2 818.7L159.9 807.4L147.2 794.8L141 784.8L129.8 773.6L122.3 768L121.1 759.9L109.9 753.6L98.6 748.7L98 742.4L101.1 737.4L99.9 731.8L91.2 728.7L89.9 722.5L78.7 716L78.7 707.2L71.8 706L61.2 694.8L61.2 667.4L67.5 639.7L118.3 639.9L118.6 631.8L129.8 631.5L129.8 625.6L146 626.9L172.2 642.4L189.6 651.8L203.3 653L219.5 653L225.8 646.2L228.2 635L228.9 620L231.5 599.7L230.5 581.8L225.5 569.8L211.6 557.8Z" fill="none" stroke="#696969" stroke-width="1.4" stroke-linejoin="round"/>
<path d="M653.9 572.2L648 574.9L641.6 576.5L631.9 582.9L614.7 592.6L607.2 600.1L605.1 605.4L598.6 609.7L592.2 615.1L582.6 620.4L578.3 621.5L577.2 625.8L572.9 632.2L570.4 638.6L567.5 646.3L568.5 657.9L572.4 671.5L578.2 685L583 695.6L583.9 704.3L588.8 717.8L591.3 727.5L590.7 742.9L586.8 754.5L583 762.2L578.2 758.4L572.4 758.4L570.4 750.6L562.7 742.9L558.8 733.3L555 731.3L552.1 723.6L547.3 715.9L544.4 706.2L547.3 696.6L547.3 686.9L541.5 681.1L533.7 671.5L526 663.7L521.2 662.8L514.4 669.5L506.7 673.4L501.9 671.5L499 663.7L494.4 660.9L484.4 656.9L474.5 655L469.5 657.9L459.5 658.9L457.5 651L455.5 658.9L444.6 657.9L434.6 658.9L427.6 664.9L429.6 672.9L433.6 676.9L440.6 681.9L433.6 686.4L432.6 678.9L422.6 679.9L421.6 683.9L408.7 683.9L405.7 676.9L399.7 674.9L389.7 675.4L379.8 674.4L369.8 670.9L359.8 670.9L351.8 672.9L342.9 677.9L329.9 689.4L316 674.9" fill="none" stroke="#696969" stroke-width="2.4" stroke-linejoin="round" stroke-linecap="round"/>
<path d="M283.1 738.7L296.8 743.7L304.3 743.7L303 749.9L294.3 753.6L294.3 763.6L291.8 771.1L294.3 782.3L294.3 794.8L293.3 814.9L297 823.6L301.4 827.4L299.5 833.6L303.2 843.6L315.7 858.5L318.2 868.5L324.4 877.2L329.4 882.2L339.4 882.8L346.9 890.4" fill="none" stroke="#696969" stroke-width="2.4" stroke-linejoin="round" stroke-linecap="round"/>
<path d="M197.9 890.4L194.8 884.7L187.3 877.2L172.4 869.8L163.6 857.3L160.5 849.8L168.6 844.8L163.6 841.7L168.6 837.4L169.9 828.6L161.2 818.7L159.9 807.4L147.2 794.8L141 784.8L129.8 773.6L122.3 768L121.1 759.9L109.9 753.6L98.6 748.7L98 742.4L101.1 737.4L99.9 731.8L91.2 728.7L89.9 722.5L78.7 716L78.7 707.2L71.8 706L61.2 694.8" fill="none" stroke="#696969" stroke-width="2.4" stroke-linejoin="round" stroke-linecap="round"/>
<ellipse cx="187.8" cy="619.6" rx="6.2" ry="8.2" transform="rotate(-18 187.8 619.6)" fill="#a4c0d7" stroke="#696969" stroke-width="1.3"/>
<path d="M279.4 703.8C281.2 701.8 284.4 701.5 287.4 701.8C290.4 702.1 295.1 703.8 297.4 705.8C299.7 707.8 301.1 710.1 301.4 713.8C301.7 717.5 300.7 724.5 299.4 727.8C298.1 731.1 296.1 732.8 293.4 733.8C290.7 734.8 286.1 734.8 283.4 733.8C280.7 732.8 278.6 731.1 277.4 727.8C276.2 724.5 276.1 717.8 276.4 713.8C276.7 709.8 277.6 705.8 279.4 703.8Z" fill="#245a9c" stroke="#696969" stroke-width="1.5" stroke-linejoin="round"/>
<clipPath id="yucclip"><path d="M359.9 890.4L379.8 883.7L391.8 882.7L403.8 877.7L411.8 869.8L413.8 861.8L416.8 853.8L416.8 843.8L419.8 836.8L427.7 832.8L439.7 830.8L447.7 827.8L459.7 827.4L473.7 826.8L478.6 831.8L476.6 839.8L469.7 849.8L466.7 861.8L464.7 873.7L462.7 890.4Z"/></clipPath>
<g clip-path="url(#yucclip)"><path d="M359.9 890.4L379.8 883.7L391.8 882.7L403.8 877.7L411.8 869.8L413.8 861.8L416.8 853.8L416.8 843.8L419.8 836.8L427.7 832.8L439.7 830.8L447.7 827.8L459.7 827.4L473.7 826.8L478.6 831.8L476.6 839.8L469.7 849.8L466.7 861.8L464.7 873.7L462.7 890.4Z" fill="#1b508b"/><path d="M410 847.8L416.8 847.8L427.7 853.8L437.7 863.8L439.7 875.7L447.7 895L350 895L350 870Z" fill="#2b6ca4"/></g>
<path d="M359.9 890.4L379.8 883.7L391.8 882.7L403.8 877.7L411.8 869.8L413.8 861.8L416.8 853.8L416.8 843.8L419.8 836.8L427.7 832.8L439.7 830.8L447.7 827.8L459.7 827.4L473.7 826.8L478.6 831.8L476.6 839.8L469.7 849.8L466.7 861.8L464.7 873.7L462.7 890.4Z" fill="none" stroke="#696969" stroke-width="1.6" stroke-linejoin="round" stroke-linecap="round"/>
<path d="M508.6 820.9L517.6 817.9L518.6 809.9L525.5 804.9L539.5 799.9L551.5 796.9L569.5 795.9L577.4 794.9L589.4 796.9L599.4 802.9L611.4 806.9L623.4 810.9L633.3 819.9L641.3 825.8L653.9 832.8L653.9 857.8L643.3 857.8L629.3 859.8L641.3 847.8L637.3 843.8L625.3 843.8L617.4 835.8L613.4 825.8L603.4 826.8L587.4 819.9L575.4 815.9L561.5 814.9L557.5 811.9L565.5 808.9L559.5 805.9L545.5 806.9L535.5 812.9L525.5 814.9L521.6 821.8L515.6 822.8Z" fill="#1b508b" stroke="#696969" stroke-width="1.8" stroke-linejoin="round"/>
<path d="M540 822L544 820.5L547.5 823L546.5 828L542 829L539 826Z" fill="#1b508b" stroke="#696969" stroke-width="1.5" stroke-linejoin="round"/>
<path d="M618.7 768L623.5 756.4L626.4 764.2L630.3 773.8L633 783L630.5 786.5L627 781L623.4 775Z" fill="#1b508b" stroke="#696969" stroke-width="2.0" stroke-linejoin="round"/>
<path d="M608.1 728.4L614.8 733.3L624.5 729.4L630.3 723.6L640 729.4L643.8 735.2L640 744.8" fill="none" stroke="#696969" stroke-width="2.8" stroke-linejoin="round" stroke-linecap="round"/>
<path d="M621 719L625 721.5" fill="none" stroke="#696969" stroke-width="1.4" stroke-linejoin="round" stroke-linecap="round"/>
<path d="M603.3 746L603.6 750.5" fill="none" stroke="#696969" stroke-width="1.4" stroke-linejoin="round" stroke-linecap="round"/>
<path d="M628.4 747L631.5 753L629.5 756" fill="none" stroke="#696969" stroke-width="1.6" stroke-linejoin="round" stroke-linecap="round"/>
<path d="M634 760.5L642 758.5" fill="none" stroke="#696969" stroke-width="1.8" stroke-linejoin="round" stroke-linecap="round"/>
<path d="M644.8 752.6L648 751L651.5 755" fill="none" stroke="#696969" stroke-width="1.8" stroke-linejoin="round" stroke-linecap="round"/>
<path d="M645.7 766L647.5 772L652 778.5" fill="none" stroke="#696969" stroke-width="1.5" stroke-linejoin="round" stroke-linecap="round"/>
<path d="M597.5 791L599.5 793.5" fill="none" stroke="#696969" stroke-width="1.5" stroke-linejoin="round" stroke-linecap="round"/>
<path d="M641.3 847.8L637.3 843.8L625.3 843.8L617.4 835.8L613.4 825.8" fill="none" stroke="#696969" stroke-width="2.2" stroke-linejoin="round" stroke-linecap="round"/>
<path d="M577.4 794.9L589.4 796.9L599.4 802.9L611.4 806.9L623.4 810.9L633.3 819.9" fill="none" stroke="#696969" stroke-width="2.6" stroke-linejoin="round" stroke-linecap="round"/>
<path d="M606 803.5L612 805L620 807.5L626 812" fill="none" stroke="#696969" stroke-width="3.0" stroke-linejoin="round" stroke-linecap="round"/>
<path d="M533 818L541 816.5L549 818.5L556 817L563 819.5L570 818" fill="none" stroke="#696969" stroke-width="1.6" stroke-linejoin="round" stroke-linecap="round"/>
<path d="M508.6 820.9L513 823L521.6 821.8" fill="none" stroke="#696969" stroke-width="2.6" stroke-linejoin="round" stroke-linecap="round"/>
<path d="M610 848L612.5 851L609 854.5" fill="none" stroke="#696969" stroke-width="1.3" stroke-linejoin="round" stroke-linecap="round"/>
<rect x="570" y="868.5" width="3" height="3" fill="#696969"/>
<rect x="94" y="790.8" width="3" height="3" fill="#696969"/>
<path d="M143.7 822.4L146.5 827L149.5 829.5" fill="none" stroke="#696969" stroke-width="2.2" stroke-linejoin="round" stroke-linecap="round"/>
<path d="M151.5 832.5L152.4 833.6" fill="none" stroke="#696969" stroke-width="2.0" stroke-linejoin="round" stroke-linecap="round"/>
<path d="M198.5 852L203 850L209 850.3L212 853L210.5 855.6L205 853.8L200 854Z" fill="#d4d9e3" stroke="#696969" stroke-width="1.5" stroke-linejoin="round"/>
<path d="M405.7 676.9L408.7 683.9L421.6 683.9L422.6 679.9L432.6 678.9L433.6 686.4L440.6 681.9L433.6 676.9L429.6 672.9" fill="none" stroke="#696969" stroke-width="3.0" stroke-linejoin="round" stroke-linecap="round"/>
<path d="M427.6 664.9L431 661L434.6 658.9L444.6 657.9L455.5 658.9" fill="none" stroke="#696969" stroke-width="2.8" stroke-linejoin="round" stroke-linecap="round"/>
<path d="M429 667L433 663.5L437 661.5L441 664L439 669L435.5 672.5" fill="none" stroke="#696969" stroke-width="1.6" stroke-linejoin="round" stroke-linecap="round"/>
<path d="M457.5 651.5L457.8 657" fill="none" stroke="#696969" stroke-width="2.4" stroke-linejoin="round" stroke-linecap="round"/>
<path d="M359 669.5L360 666.5" fill="none" stroke="#696969" stroke-width="2.2" stroke-linejoin="round" stroke-linecap="round"/>
<path d="M368.5 669.5L369.5 666" fill="none" stroke="#696969" stroke-width="2.2" stroke-linejoin="round" stroke-linecap="round"/>
<path d="M386 673.5L392 671L398 673.5" fill="none" stroke="#696969" stroke-width="2.6" stroke-linejoin="round" stroke-linecap="round"/>
<path d="M340.5 674.5L344 672" fill="none" stroke="#696969" stroke-width="2.6" stroke-linejoin="round" stroke-linecap="round"/>
<path d="M417.6 661L421.2 658L424.6 660.8L421 664.2Z" fill="#fff" stroke="#696969" stroke-width="1"/>
<path d="M341 673.5L343 671.5L344.6 674L342.6 675.6Z" fill="#fff"/>
<path d="M547.3 696.6L544.6 706.2L547.3 715.9" fill="none" stroke="#696969" stroke-width="3.2" stroke-linejoin="round" stroke-linecap="round"/>
<path d="M552.1 723.6L555 731.3L558.8 733.3" fill="none" stroke="#696969" stroke-width="3.0" stroke-linejoin="round" stroke-linecap="round"/>
<path d="M570.4 750.6L572.4 758.4L578.2 758.4L583 762.2" fill="none" stroke="#696969" stroke-width="2.8" stroke-linejoin="round" stroke-linecap="round"/>
</g>
<rect x="68.8" y="492" width="18.1" height="17.6" fill="#edf2fb"/>
<rect x="68.8" y="509.5" width="18.1" height="17.6" fill="#d0e1f2"/>
<rect x="68.8" y="527.1" width="18.1" height="17.6" fill="#abd0e6"/>
<rect x="68.8" y="544.6" width="18.1" height="17.6" fill="#7ab6d9"/>
<rect x="68.8" y="562.2" width="18.1" height="17.6" fill="#4b98c9"/>
<rect x="68.8" y="579.7" width="18.1" height="17.6" fill="#2070b4"/>
<rect x="68.8" y="597.2" width="18.1" height="17.6" fill="#08488e"/>
<g font-size="13.75" fill="#000" stroke="#000" stroke-width="0.3">
<text x="91.2" y="506.1">−61.41 to −43.31</text>
<text x="91.2" y="523.6">−43.31 to −38.89</text>
<text x="91.2" y="541.1">−38.89 to −33.25</text>
<text x="91.2" y="558.6">−33.25 to −27.68</text>
<text x="91.2" y="576.1">−27.68 to −23.66</text>
<text x="91.2" y="593.6">−23.66 to −19.94</text>
<text x="91.2" y="611.1">−19.94 to −7.44</text>
</g>
<g fill="none" stroke="#000" stroke-width="2.1">
<circle cx="204.7" cy="682.1" r="30.2"/>
<ellipse cx="322.9" cy="591.2" rx="79.3" ry="75.7"/>
<ellipse cx="382.3" cy="639.2" rx="52" ry="41.4"/>
<ellipse cx="615" cy="581.8" rx="31.7" ry="34"/>
<path d="M159.7 655.5L177.6 666.9M440.7 522.3L385.8 542.9M468.7 589.8L425.3 610.3M580.4 527.9L601 551.2" stroke-width="1.6"/>
</g>
<g fill="#000">
<circle cx="299.4" cy="566.4" r="7.9"/>
<circle cx="283" cy="581.8" r="7.9"/>
<circle cx="330.3" cy="564.2" r="7.9"/>
<circle cx="347.3" cy="565.8" r="7.9"/>
<circle cx="373.3" cy="569.2" r="7.9"/>
<circle cx="315" cy="598.7" r="7.9"/>
<circle cx="369.6" cy="626" r="7.9"/>
<circle cx="371.7" cy="637.6" r="7.9"/>
<circle cx="397" cy="634.5" r="7.9"/>
<circle cx="400.6" cy="641" r="7.9"/>
<circle cx="214.6" cy="682.9" r="7.9"/>
<circle cx="624" cy="591.2" r="7.9"/>
</g>
<g font-size="19.6" fill="#000" text-anchor="middle" stroke="#000" stroke-width="0.3">
<text x="294.4" y="552.2">C</text>
<text x="327.3" y="551.4">E</text>
<text x="352.3" y="551.4">F</text>
<text x="372.9" y="558.4">G</text>
<text x="266.5" y="577.8">B</text>
<text x="298" y="613.1">D</text>
<text x="353.7" y="628.7">H</text>
<text x="350.3" y="654.6">I</text>
<text x="410.2" y="623.7">L</text>
<text x="394.2" y="666.9">M</text>
<text x="194" y="680.5">A</text>
<text x="610.4" y="577.8">N</text>
<text x="141.7" y="658.5">K1</text>
<text x="458.7" y="525.9">K2</text>
<text x="489.6" y="589.8">K3</text>
<text x="583.2" y="523.9">K4</text>
</g>
<rect x="60.6" y="488.6" width="593" height="401.8" fill="none" stroke="#000" stroke-width="1.4"/>
<line x1="59.9" x2="654.3" y1="890.6" y2="890.6" stroke="#000" stroke-width="2.5"/>
<g stroke="#222" stroke-width="1.1">
<line x1="88.6" x2="88.6" y1="890.4" y2="898"/>
<line x1="172.5" x2="172.5" y1="890.4" y2="898"/>
<line x1="256.4" x2="256.4" y1="890.4" y2="898"/>
<line x1="340.3" x2="340.3" y1="890.4" y2="898"/>
<line x1="424.2" x2="424.2" y1="890.4" y2="898"/>
<line x1="508.1" x2="508.1" y1="890.4" y2="898"/>
<line x1="592" x2="592" y1="890.4" y2="898"/>
<line x1="54.2" x2="60.6" y1="570.2" y2="570.2"/>
<line x1="54.2" x2="60.6" y1="666.2" y2="666.2"/>
<line x1="54.2" x2="60.6" y1="762.2" y2="762.2"/>
<line x1="54.2" x2="60.6" y1="858.2" y2="858.2"/>
</g>
<g font-size="21.1" fill="#000" text-anchor="middle" stroke="#000" stroke-width="0.3">
<text x="88.4" y="921.9">−110</text>
<text x="172.3" y="921.9">−105</text>
<text x="256.2" y="921.9">−100</text>
<text x="340.1" y="921.9">−95</text>
<text x="424" y="921.9">−90</text>
<text x="507.9" y="921.9">−85</text>
<text x="591.8" y="921.9">−80</text>
</g>
<g font-size="21.1" fill="#000" text-anchor="end" stroke="#000" stroke-width="0.3">
<text x="48" y="577.6">35</text>
<text x="48" y="673.6">30</text>
<text x="48" y="769.6">25</text>
<text x="48" y="865.6">20</text>
</g>
<text x="0.2" y="504.4" font-size="29" fill="#000" stroke="#000" stroke-width="0.3">B.</text>
<g font-size="17.26" fill="#000" stroke="#000" stroke-width="0.3">
<text x="685.6" y="530.9">A</text>
<text x="711.6" y="530.9">BIBE = Big Bend, TX</text>
<text x="685.6" y="560.7">B</text>
<text x="711.6" y="560.7">WMWR = Wichita Mountains, OK</text>
<text x="685.6" y="590.5">C</text>
<text x="712.2" y="590.5">NOR = Norman, OK</text>
<text x="685.6" y="620.3">D</text>
<text x="712.2" y="620.3">BS = Biological Station, OK</text>
<text x="685.6" y="650.1">E</text>
<text x="711.6" y="650.1">DF = Deep Fork, OK</text>
<text x="685.6" y="679.9">F</text>
<text x="710.2" y="679.9">SEQ = Sequoyah, OK</text>
<text x="685.6" y="709.7">G</text>
<text x="712.8" y="709.7">HB = Holla Bend, AR</text>
<text x="685.6" y="739.5">H</text>
<text x="712.4" y="739.5">RR = Red River, LA</text>
<text x="685.6" y="769.3">I</text>
<text x="709.4" y="769.3">SL = Spanish Lake, LA</text>
<text x="685.6" y="799.1">L</text>
<text x="709.4" y="799.1">CO = Bayou Cocodrie, LA</text>
<text x="685.6" y="828.9">M</text>
<text x="714.2" y="828.9">SCA = St. Catherine Creek, MS</text>
<text x="685.6" y="858.7">N</text>
<text x="712.2" y="858.7">BHI = Bald Head Island, NC</text>
</g>
</g>
<g id="panelC">
<g stroke="#000" stroke-width="1.9" stroke-linejoin="round">
<path d="M1222.6 444.4C1222.6 445 1222.4 446.7 1222.6 448C1222.8 449.3 1223 451 1223.8 452.3C1224.6 453.6 1225.5 454.8 1227.3 456C1229.1 457.2 1231.5 458.6 1234.8 459.8C1238 461 1242.6 462 1246.8 463C1251 464 1256.6 465 1259.8 466C1263 467 1264.4 467.9 1265.8 469C1267.2 470.1 1268.2 471.4 1268.2 472.7C1268.2 473.9 1267.2 475.3 1265.8 476.5C1264.4 477.7 1262.8 478.5 1259.8 479.7C1256.8 480.9 1251.5 482.2 1247.8 483.5C1244.1 484.8 1240.4 486 1237.4 487.2C1234.4 488.4 1231.7 489.5 1229.8 490.5C1227.9 491.5 1227.2 492.4 1226.2 493.4C1225.2 494.4 1224.5 495.5 1224 496.5C1223.5 497.5 1223.2 498.5 1223.3 499.6C1223.4 500.7 1223.7 501.8 1224.8 503C1225.9 504.2 1227.3 505.8 1229.8 507.1C1232.3 508.4 1235.6 509.8 1239.8 511C1244 512.2 1249 513.4 1254.8 514.6C1260.6 515.9 1268.1 517.2 1274.8 518.5C1281.5 519.8 1287.3 520.7 1294.8 522.1C1302.3 523.5 1314.4 525.7 1319.8 527C1325.2 528.3 1325.6 529 1327.3 530C1329 531 1330.1 532.2 1330.2 533.3C1330.3 534.4 1329.2 535.5 1327.8 536.5C1326.4 537.5 1324.8 538.4 1321.8 539.5C1318.8 540.6 1314.3 541.8 1309.8 543C1305.3 544.2 1301 545.1 1294.8 547C1288.5 548.9 1278.1 552.4 1272.3 554.5C1266.5 556.6 1263.5 557.9 1259.8 559.5C1256 561.1 1252.7 563 1249.8 564.4C1246.9 565.8 1244.5 566.8 1242.3 568C1240.1 569.2 1238.1 570.6 1236.4 571.9C1234.6 573.1 1232.9 574.2 1231.8 575.5C1230.7 576.8 1229.7 578.1 1229.5 579.4C1229.3 580.6 1229.9 581.8 1230.8 583C1231.7 584.2 1233 585.6 1234.8 586.9C1236.6 588.1 1239.5 589.3 1241.8 590.5C1244.1 591.7 1247.1 593.2 1248.6 594.3C1250.1 595.4 1250.3 596.2 1250.8 597C1251.3 597.8 1251.7 598.3 1251.5 599.3C1251.3 600.3 1250.9 601.6 1249.8 603C1248.7 604.4 1246.9 606.1 1244.8 607.4C1242.7 608.7 1239.8 609.8 1237.3 611C1234.8 612.2 1231.7 613.6 1229.8 614.8C1227.9 616 1226.8 617 1225.8 618C1224.8 619 1224.3 620 1223.8 621.1C1223.3 622.2 1222.8 623.4 1222.6 624.5C1222.4 625.6 1222.6 627.2 1222.6 627.7L1222.6 627.7C1222.6 627.2 1222.8 625.6 1222.6 624.5C1222.4 623.4 1221.9 622.2 1221.4 621.1C1220.9 620 1220.4 619 1219.4 618C1218.4 617 1217.3 616 1215.4 614.8C1213.5 613.6 1210.4 612.2 1207.9 611C1205.4 609.8 1202.5 608.7 1200.4 607.4C1198.3 606.1 1196.5 604.4 1195.4 603C1194.3 601.6 1193.9 600.3 1193.7 599.3C1193.5 598.3 1193.9 597.8 1194.4 597C1194.9 596.2 1195.1 595.4 1196.6 594.3C1198.1 593.2 1201.1 591.7 1203.4 590.5C1205.7 589.3 1208.6 588.1 1210.4 586.9C1212.2 585.6 1213.5 584.2 1214.4 583C1215.3 581.8 1215.9 580.6 1215.7 579.4C1215.5 578.1 1214.5 576.8 1213.4 575.5C1212.2 574.2 1210.5 573.1 1208.8 571.9C1207 570.6 1205.1 569.2 1202.9 568C1200.7 566.8 1198.3 565.8 1195.4 564.4C1192.5 563 1189.1 561.1 1185.4 559.5C1181.6 557.9 1178.7 556.6 1172.9 554.5C1167.1 552.4 1156.6 548.9 1150.4 547C1144.1 545.1 1139.9 544.2 1135.4 543C1130.9 541.8 1126.4 540.6 1123.4 539.5C1120.4 538.4 1118.8 537.5 1117.4 536.5C1116 535.5 1114.9 534.4 1115 533.3C1115.1 532.2 1116.2 531 1117.9 530C1119.6 529 1120 528.3 1125.4 527C1130.8 525.7 1142.9 523.5 1150.4 522.1C1157.9 520.7 1163.7 519.8 1170.4 518.5C1177.1 517.2 1184.6 515.9 1190.4 514.6C1196.2 513.4 1201.2 512.2 1205.4 511C1209.6 509.8 1212.9 508.4 1215.4 507.1C1217.9 505.8 1219.3 504.2 1220.4 503C1221.5 501.8 1221.8 500.7 1221.9 499.6C1222 498.5 1221.7 497.5 1221.2 496.5C1220.7 495.5 1220 494.4 1219 493.4C1218 492.4 1217.3 491.5 1215.4 490.5C1213.5 489.5 1210.8 488.4 1207.8 487.2C1204.8 486 1201.1 484.8 1197.4 483.5C1193.7 482.2 1188.4 480.9 1185.4 479.7C1182.4 478.5 1180.8 477.7 1179.4 476.5C1178 475.3 1177 473.9 1177 472.7C1177 471.4 1178 470.1 1179.4 469C1180.8 467.9 1182.2 467 1185.4 466C1188.6 465 1194.2 464 1198.4 463C1202.6 462 1207.1 461 1210.4 459.8C1213.6 458.6 1216.1 457.2 1217.9 456C1219.7 454.8 1220.6 453.6 1221.4 452.3C1222.2 451 1222.4 449.3 1222.6 448C1222.8 446.7 1222.6 445 1222.6 444.4Z" fill="#df0017"/>
<path d="M1438 235C1438 239.2 1438 249.2 1438 260C1438 270.8 1438.1 286.7 1438.3 300C1438.5 313.3 1438.9 327.7 1439.2 340C1439.5 352.3 1439.8 365.7 1440.2 374C1440.6 382.3 1440.8 384.8 1441.5 390C1442.2 395.2 1443.1 400.3 1444.1 405C1445.1 409.7 1446.2 413.8 1447.7 418C1449.2 422.2 1451.1 426 1452.8 430C1454.5 434 1456.1 437.9 1457.7 442C1459.3 446.1 1460.6 450.1 1462.2 454.8C1463.8 459.5 1466.1 465.8 1467.2 470C1468.3 474.2 1468.6 477.1 1469 480C1469.4 482.9 1469.7 484.7 1469.7 487.2C1469.7 489.7 1469.5 492 1469.2 495C1468.9 498 1468.5 500.9 1467.8 505C1467.1 509.1 1465.7 514.6 1465.2 519.6C1464.7 524.6 1464.5 530.3 1464.6 535C1464.6 539.7 1465.3 544.8 1465.5 548C1465.7 551.2 1465.8 552.2 1465.7 554.5C1465.6 556.8 1465.4 559.4 1465 562C1464.6 564.6 1464.2 566.2 1463.2 570C1462.2 573.8 1460.1 580.8 1458.7 585C1457.3 589.2 1455.9 591.8 1454.7 595C1453.5 598.2 1452.4 600.1 1451.5 604.3C1450.6 608.5 1449.8 614.9 1449.2 620C1448.6 625.1 1448.3 630.5 1447.8 634.8C1447.3 639.1 1446.8 641.8 1446.2 646C1445.6 650.2 1444.9 655.6 1444.2 660C1443.5 664.4 1442.9 668 1442.2 672.2C1441.5 676.4 1440.8 680.9 1440.2 685C1439.6 689.1 1439 692.8 1438.7 697C1438.4 701.2 1438.3 705.8 1438.2 710C1438.1 714.2 1437.9 716.2 1438 722C1438.1 727.8 1438.5 738.7 1438.8 745C1439.1 751.3 1439.4 755.8 1439.6 760C1439.8 764.2 1439.8 766.3 1439.8 770C1439.8 773.7 1439.6 777.8 1439.4 782C1439.2 786.2 1438.8 788.7 1438.6 795C1438.4 801.3 1438.1 811.1 1438 820C1437.9 828.9 1438 843.5 1438 848.2L1438 848.2C1438 843.5 1438.1 828.9 1438 820C1437.9 811.1 1437.6 801.3 1437.4 795C1437.2 788.7 1436.8 786.2 1436.6 782C1436.4 777.8 1436.2 773.7 1436.2 770C1436.2 766.3 1436.2 764.2 1436.4 760C1436.6 755.8 1436.9 751.3 1437.2 745C1437.5 738.7 1437.9 727.8 1438 722C1438.1 716.2 1437.9 714.2 1437.8 710C1437.7 705.8 1437.6 701.2 1437.3 697C1437 692.8 1436.4 689.1 1435.8 685C1435.2 680.9 1434.5 676.4 1433.8 672.2C1433.1 668 1432.5 664.4 1431.8 660C1431.1 655.6 1430.4 650.2 1429.8 646C1429.2 641.8 1428.7 639.1 1428.2 634.8C1427.7 630.5 1427.4 625.1 1426.8 620C1426.2 614.9 1425.4 608.5 1424.5 604.3C1423.6 600.1 1422.5 598.2 1421.3 595C1420.1 591.8 1418.7 589.2 1417.3 585C1415.9 580.8 1413.8 573.8 1412.8 570C1411.8 566.2 1411.4 564.6 1411 562C1410.6 559.4 1410.4 556.8 1410.3 554.5C1410.2 552.2 1410.3 551.2 1410.5 548C1410.7 544.8 1411.4 539.7 1411.4 535C1411.5 530.3 1411.3 524.6 1410.8 519.6C1410.3 514.6 1408.9 509.1 1408.2 505C1407.5 500.9 1407.1 498 1406.8 495C1406.5 492 1406.3 489.7 1406.3 487.2C1406.3 484.7 1406.6 482.9 1407 480C1407.4 477.1 1407.7 474.2 1408.8 470C1409.9 465.8 1412.2 459.5 1413.8 454.8C1415.4 450.1 1416.7 446.1 1418.3 442C1419.9 437.9 1421.5 434 1423.2 430C1424.9 426 1426.8 422.2 1428.3 418C1429.8 413.8 1430.9 409.7 1431.9 405C1432.9 400.3 1433.8 395.2 1434.5 390C1435.2 384.8 1435.4 382.3 1435.8 374C1436.2 365.7 1436.5 352.3 1436.8 340C1437.1 327.7 1437.5 313.3 1437.7 300C1437.9 286.7 1438 270.8 1438 260C1438 249.2 1438 239.2 1438 235Z" fill="#2eb01a"/>
<path d="M1653.1 414.2C1653.1 415 1653 417.3 1653.1 419C1653.2 420.7 1653.4 422.9 1653.8 424.6C1654.2 426.3 1654.7 427.6 1655.5 429C1656.3 430.4 1657.4 431.5 1658.5 433C1659.6 434.5 1661.3 436.6 1662.3 438C1663.3 439.4 1663.8 440.4 1664.3 441.5C1664.8 442.6 1664.9 443.5 1665 444.6C1665.1 445.7 1664.9 446.8 1664.7 448C1664.5 449.2 1663.9 450.7 1663.6 452C1663.2 453.3 1662.8 454.8 1662.6 456C1662.4 457.2 1662.5 458 1662.7 459C1662.9 460 1663.3 461.1 1663.9 462C1664.4 462.9 1664.8 463.7 1666 464.5C1667.2 465.3 1669.1 466.2 1671.3 467C1673.5 467.8 1676.3 468.7 1679.3 469.5C1682.3 470.3 1686 471.2 1689.3 472C1692.6 472.8 1694.6 473.2 1699.3 474.5C1704 475.8 1711.2 477.9 1717.3 480C1723.4 482.1 1731.2 485 1735.8 487C1740.4 489 1742.4 490.5 1744.8 492C1747.2 493.5 1748.8 494.7 1750.3 496C1751.8 497.3 1752.9 498.6 1753.7 500C1754.5 501.4 1755 503.1 1755.1 504.4C1755.2 505.7 1754.8 506.7 1754.1 508C1753.4 509.3 1752.3 510.7 1750.8 512C1749.3 513.3 1747.4 514.7 1745.3 516C1743.2 517.3 1741.3 518.5 1738.3 520C1735.3 521.5 1731.1 523.4 1727.3 525C1723.5 526.6 1719.8 528.3 1715.3 529.8C1710.8 531.3 1705.3 532.6 1700.3 534C1695.3 535.4 1689.6 536.8 1685.3 538C1681 539.2 1677.3 540.4 1674.3 541.5C1671.3 542.6 1669.4 543.6 1667.3 544.7C1665.2 545.8 1663.4 546.9 1661.8 548C1660.2 549.1 1658.9 550.4 1657.8 551.5C1656.7 552.6 1656 553.5 1655.3 554.7C1654.6 556 1654 557.6 1653.6 559C1653.2 560.4 1653.2 561.9 1653.1 563C1653 564.1 1653.1 565.4 1653.1 565.9L1653.1 565.9C1653.1 565.4 1653.2 564.1 1653.1 563C1653 561.9 1653 560.4 1652.6 559C1652.2 557.6 1651.6 556 1650.9 554.7C1650.2 553.5 1649.5 552.6 1648.4 551.5C1647.3 550.4 1646 549.1 1644.4 548C1642.8 546.9 1641 545.8 1638.9 544.7C1636.8 543.6 1634.9 542.6 1631.9 541.5C1628.9 540.4 1625.2 539.2 1620.9 538C1616.6 536.8 1610.9 535.4 1605.9 534C1600.9 532.6 1595.4 531.3 1590.9 529.8C1586.4 528.3 1582.7 526.6 1578.9 525C1575.1 523.4 1570.9 521.5 1567.9 520C1564.9 518.5 1563 517.3 1560.9 516C1558.8 514.7 1556.9 513.3 1555.4 512C1553.9 510.7 1552.8 509.3 1552.1 508C1551.4 506.7 1551 505.7 1551.1 504.4C1551.2 503.1 1551.7 501.4 1552.5 500C1553.3 498.6 1554.4 497.3 1555.9 496C1557.4 494.7 1559 493.5 1561.4 492C1563.8 490.5 1565.8 489 1570.4 487C1575 485 1582.8 482.1 1588.9 480C1595 477.9 1602.2 475.8 1606.9 474.5C1611.6 473.2 1613.6 472.8 1616.9 472C1620.2 471.2 1623.9 470.3 1626.9 469.5C1629.9 468.7 1632.7 467.8 1634.9 467C1637.1 466.2 1639 465.3 1640.2 464.5C1641.4 463.7 1641.8 462.9 1642.3 462C1642.8 461.1 1643.3 460 1643.5 459C1643.7 458 1643.8 457.2 1643.6 456C1643.4 454.8 1642.9 453.3 1642.6 452C1642.2 450.7 1641.7 449.2 1641.5 448C1641.3 446.8 1641.1 445.7 1641.2 444.6C1641.3 443.5 1641.4 442.6 1641.9 441.5C1642.3 440.4 1642.9 439.4 1643.9 438C1644.9 436.6 1646.6 434.5 1647.7 433C1648.8 431.5 1649.9 430.4 1650.7 429C1651.5 427.6 1652 426.3 1652.4 424.6C1652.8 422.9 1653 420.7 1653.1 419C1653.2 417.3 1653.1 415 1653.1 414.2Z" fill="#ebd92b"/>
<path d="M1868.2 380.6C1868.2 381.5 1868.1 384.1 1868.2 386C1868.3 387.9 1868.7 390.3 1869 392C1869.3 393.7 1869.6 394.7 1870 396C1870.4 397.3 1870.6 398.5 1871.2 399.7C1871.8 400.9 1872.5 401.9 1873.4 403C1874.4 404.1 1875.5 404.9 1876.9 406C1878.3 407.1 1880.3 408.4 1881.9 409.7C1883.5 411 1885.2 412.6 1886.4 414C1887.6 415.4 1888.4 416.6 1888.9 418C1889.4 419.4 1889.6 420.8 1889.6 422.1C1889.6 423.4 1889.3 424.7 1888.8 426C1888.3 427.3 1887.5 428.6 1886.4 430C1885.3 431.4 1883.3 433.1 1882 434.6C1880.7 436.1 1879.2 437.8 1878.4 439C1877.6 440.2 1877.3 441.1 1877 442C1876.7 442.9 1876.6 443.6 1876.6 444.6C1876.6 445.6 1876.9 446.9 1877.2 448C1877.5 449.1 1877.9 449.9 1878.4 451C1878.9 452.1 1879 453 1880.4 454.5C1881.8 456 1884.2 457.9 1886.9 460C1889.6 462.1 1893.3 464.6 1896.4 467C1899.5 469.4 1902.2 472 1905.4 474.5C1908.7 477 1912.5 479.5 1915.9 482C1919.3 484.5 1923.4 487.2 1926 489.4C1928.6 491.6 1929.9 493.2 1931.4 495C1932.9 496.8 1934.1 498.5 1934.9 500C1935.7 501.5 1936.1 502.8 1936.4 504C1936.7 505.2 1936.8 506.2 1936.7 507.4C1936.6 508.6 1936.5 509.7 1935.9 511C1935.4 512.3 1934.6 513.5 1933.4 515C1932.2 516.5 1930.7 518.3 1928.9 520C1927.1 521.7 1924.7 523.3 1922.4 525C1920.2 526.7 1917.7 528.4 1915.4 530C1913.1 531.6 1911 533.1 1908.4 534.8C1905.8 536.5 1902.4 538.5 1899.9 540C1897.4 541.5 1895.6 542.7 1893.4 544C1891.2 545.3 1889 546.6 1886.9 548C1884.9 549.4 1882.8 550.9 1881.1 552.2C1879.4 553.5 1878 554.8 1876.9 556C1875.8 557.2 1875 558.5 1874.4 559.5C1873.8 560.5 1873.6 561.1 1873.4 562C1873.2 562.9 1873.1 563.7 1873.1 564.7C1873.1 565.7 1873.1 566.8 1873.3 568C1873.5 569.2 1873.9 570.7 1874.4 572C1874.9 573.3 1875.8 574.7 1876.4 576C1877 577.3 1877.7 578.6 1878.1 580C1878.5 581.4 1878.9 583.3 1878.9 584.6C1879 585.9 1878.7 586.8 1878.4 588C1878.1 589.2 1877.5 590.7 1876.9 592C1876.3 593.3 1875.7 594.7 1875 596C1874.3 597.3 1873.6 598.6 1872.9 600C1872.2 601.4 1871.3 603.1 1870.7 604.6C1870.1 606.1 1869.6 607.6 1869.2 609C1868.8 610.4 1868.6 611.5 1868.4 613C1868.2 614.5 1868.2 616.3 1868.2 618C1868.2 619.7 1868.2 622.2 1868.2 623L1868.2 623C1868.2 622.2 1868.2 619.7 1868.2 618C1868.2 616.3 1868.2 614.5 1868 613C1867.8 611.5 1867.6 610.4 1867.2 609C1866.8 607.6 1866.3 606.1 1865.7 604.6C1865.1 603.1 1864.2 601.4 1863.5 600C1862.8 598.6 1862.1 597.3 1861.4 596C1860.7 594.7 1860.1 593.3 1859.5 592C1858.9 590.7 1858.3 589.2 1858 588C1857.7 586.8 1857.5 585.9 1857.5 584.6C1857.5 583.3 1857.9 581.4 1858.3 580C1858.7 578.6 1859.4 577.3 1860 576C1860.6 574.7 1861.5 573.3 1862 572C1862.5 570.7 1862.9 569.2 1863.1 568C1863.3 566.8 1863.3 565.7 1863.3 564.7C1863.3 563.7 1863.2 562.9 1863 562C1862.8 561.1 1862.6 560.5 1862 559.5C1861.4 558.5 1860.6 557.2 1859.5 556C1858.4 554.8 1857 553.5 1855.3 552.2C1853.6 550.9 1851.5 549.4 1849.5 548C1847.5 546.6 1845.2 545.3 1843 544C1840.8 542.7 1839 541.5 1836.5 540C1834 538.5 1830.6 536.5 1828 534.8C1825.4 533.1 1823.3 531.6 1821 530C1818.7 528.4 1816.2 526.7 1814 525C1811.8 523.3 1809.3 521.7 1807.5 520C1805.7 518.3 1804.2 516.5 1803 515C1801.8 513.5 1801 512.3 1800.5 511C1800 509.7 1799.8 508.6 1799.7 507.4C1799.6 506.2 1799.7 505.2 1800 504C1800.3 502.8 1800.7 501.5 1801.5 500C1802.3 498.5 1803.5 496.8 1805 495C1806.5 493.2 1807.8 491.6 1810.4 489.4C1813 487.2 1817.1 484.5 1820.5 482C1823.9 479.5 1827.8 477 1831 474.5C1834.2 472 1836.9 469.4 1840 467C1843.1 464.6 1846.8 462.1 1849.5 460C1852.2 457.9 1854.6 456 1856 454.5C1857.4 453 1857.5 452.1 1858 451C1858.5 449.9 1858.9 449.1 1859.2 448C1859.5 446.9 1859.8 445.6 1859.8 444.6C1859.8 443.6 1859.7 442.9 1859.4 442C1859.1 441.1 1858.8 440.2 1858 439C1857.2 437.8 1855.7 436.1 1854.4 434.6C1853.1 433.1 1851.1 431.4 1850 430C1848.9 428.6 1848.1 427.3 1847.6 426C1847.1 424.7 1846.8 423.4 1846.8 422.1C1846.8 420.8 1847 419.4 1847.5 418C1848 416.6 1848.8 415.4 1850 414C1851.2 412.6 1852.9 411 1854.5 409.7C1856.1 408.4 1858.1 407.1 1859.5 406C1860.9 404.9 1862 404.1 1863 403C1864 401.9 1864.6 400.9 1865.2 399.7C1865.8 398.5 1866 397.3 1866.4 396C1866.8 394.7 1867.1 393.7 1867.4 392C1867.7 390.3 1868.1 387.9 1868.2 386C1868.3 384.1 1868.2 381.5 1868.2 380.6Z" fill="#78f8ff"/>
</g>
<line x1="1088.1" x2="2006" y1="646.1" y2="646.1" stroke="#1c1c1c" stroke-width="1.55"/>
<line x1="1222.6" x2="1222.6" y1="502.1" y2="571.9" stroke="#000" stroke-width="2.4"/>
<circle cx="1222.6" cy="534.5" r="6.2" fill="#000"/>
<line x1="1438" x2="1438" y1="450.3" y2="602.6" stroke="#000" stroke-width="2.4"/>
<circle cx="1438" cy="526.3" r="6.2" fill="#000"/>
<line x1="1653.1" x2="1653.1" y1="479.5" y2="522.5" stroke="#000" stroke-width="2.4"/>
<circle cx="1653.1" cy="501" r="6.2" fill="#000"/>
<line x1="1868.2" x2="1868.2" y1="457" y2="539.8" stroke="#000" stroke-width="2.4"/>
<circle cx="1868.2" cy="498.6" r="6.2" fill="#000"/>
<g stroke="#000" stroke-width="1.8" fill="none">
<path d="M1093.4 18.6V890H1997.5"/>
<line x1="1088.1" x2="1093.4" y1="184.9" y2="184.9"/>
<line x1="1088.1" x2="1093.4" y1="415.6" y2="415.6"/>
<line x1="1088.1" x2="1093.4" y1="646.2" y2="646.2"/>
<line x1="1088.1" x2="1093.4" y1="876.8" y2="876.8"/>
<line x1="1222.6" x2="1222.6" y1="890" y2="895.7"/>
<line x1="1438" x2="1438" y1="890" y2="895.7"/>
<line x1="1653.1" x2="1653.1" y1="890" y2="895.7"/>
<line x1="1868.2" x2="1868.2" y1="890" y2="895.7"/>
</g>
<g font-size="21.3" fill="#000" text-anchor="end" stroke="#000" stroke-width="0.3">
<text x="1084.5" y="193.3">80</text>
<text x="1084.5" y="424">40</text>
<text x="1084.5" y="654.6">0</text>
<text x="1084.5" y="885.2">−40</text>
</g>
<g font-size="21.3" fill="#000" text-anchor="middle" stroke="#000" stroke-width="0.3">
<text x="1219.8" y="920.8">K1</text>
<text x="1435.2" y="920.8">K2</text>
<text x="1650.3" y="920.8">K3</text>
<text x="1865.4" y="920.8">K4</text>
</g>
<g font-size="22.2" fill="#000" text-anchor="middle" stroke="#000" stroke-width="0.3">
<text x="1224.7" y="408.8">(17)</text>
<text x="1437" y="197.6">(61)</text>
<text x="1654.6" y="386.9">(18)</text>
<text x="1870" y="355.8">(16)</text>
</g>
<text transform="translate(1038.1 599.4) rotate(-90)" font-size="27.7" text-anchor="start" fill="#000" stroke="#000" stroke-width="0.3">H precip/feather difference</text>
<text x="1030.6" y="27" font-size="29" fill="#000" stroke="#000" stroke-width="0.3">C.</text>
</g>
</svg>
</body>
</html>
